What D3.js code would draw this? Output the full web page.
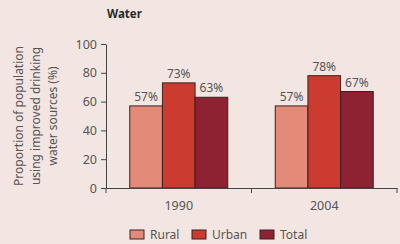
<!DOCTYPE html>
<html><head><meta charset="utf-8">
<script src="https://cdn.jsdelivr.net/npm/d3@7/dist/d3.min.js"></script>
<style>
html,body{margin:0;padding:0;background:#f3e6e2;}
svg{display:block;}
text{font-family:"Noto Sans","Open Sans",sans-serif;}
</style></head><body>
<svg id="c" width="400" height="244"></svg>
<script>
const title = "Water";
const years = ["1990", "2004"];
const seriesNames = ["Rural", "Urban", "Total"];
const rural = [57, 57];
const urban = [73, 78];
const total = [63, 67];
const yTicks = [0, 20, 40, 60, 80, 100];
const yLabelLines = ["Proportion of population", "using improved drinking", "water sources (%)"];
const colors = ["#e38a78", "#cc3b2f", "#8e2232"];

const values = [rural, urban, total];
const svg = d3.select("#c");
const x0 = 106, x1 = 397, yTop = 44, yBot = 188;

const x = d3.scaleBand().domain(years).range([x0, x1]);
const xs = d3.scaleBand().domain(seriesNames).range([0, 98]);
const y = d3.scaleLinear().domain([0, 100]).range([yBot, yTop]);

// title
svg.append("text").attr("x", 107).attr("y", 18).attr("font-size", 11.5)
  .attr("font-weight", "bold").attr("fill", "#2a2a2a").text(title);

// bars
years.forEach((yr, i) => {
  const gx = x(yr) + (x.bandwidth() - 98) / 2;
  seriesNames.forEach((s, j) => {
    const v = values[j][i];
    svg.append("rect").attr("x", gx + xs(s)).attr("y", y(v))
      .attr("width", xs.bandwidth()).attr("height", yBot - y(v))
      .attr("fill", colors[j]).attr("stroke", "#3a2222").attr("stroke-width", 1);
    svg.append("text").attr("x", gx + xs(s) + xs.bandwidth() / 2).attr("y", y(v) - 5)
      .attr("text-anchor", "middle").attr("font-size", 12).attr("fill", "#555")
      .text(v + "%");
  });
});

// y axis
const ya = svg.append("g").attr("transform", `translate(${x0},0)`)
  .call(d3.axisLeft(y).tickValues(yTicks).tickSize(5).tickPadding(4).tickSizeOuter(0));
ya.select(".domain").attr("stroke", "#444");
ya.selectAll(".tick line").attr("stroke", "#444");
ya.selectAll(".tick text").attr("font-size", 12.5).attr("fill", "#555")
  .attr("font-family", '"Noto Sans","Open Sans",sans-serif');

// x axis
const xa = svg.append("g").attr("transform", `translate(0,${yBot})`)
  .call(d3.axisBottom(x).tickSize(0).tickPadding(13).tickSizeOuter(0));
xa.select(".domain").attr("stroke", "#444");
xa.selectAll(".tick text").attr("font-size", 12.5).attr("fill", "#555")
  .attr("font-family", '"Noto Sans","Open Sans",sans-serif');
// band boundary ticks
const bounds = [x0, x(years[1]), x1];
svg.selectAll(".bt").data(bounds).enter().append("line")
  .attr("x1", d => d).attr("x2", d => d).attr("y1", yBot).attr("y2", yBot + 5)
  .attr("stroke", "#444");

// y label
const yl = svg.append("text").attr("transform", `translate(0,116) rotate(-90)`)
  .attr("text-anchor", "middle").attr("font-size", 12).attr("fill", "#555");
yLabelLines.forEach((l, i) => {
  yl.append("tspan").attr("x", 0).attr("y", 22.5 + i * 17.3).text(l);
});

// legend
const legX = [130, 192, 260];
seriesNames.forEach((s, j) => {
  svg.append("rect").attr("x", legX[j]).attr("y", 230).attr("width", 14).attr("height", 9)
    .attr("fill", colors[j]).attr("stroke", "#3a2222").attr("stroke-width", 1);
  svg.append("text").attr("x", legX[j] + 20).attr("y", 239).attr("font-size", 12)
    .attr("fill", "#555").text(s);
});
</script>
</body></html>
